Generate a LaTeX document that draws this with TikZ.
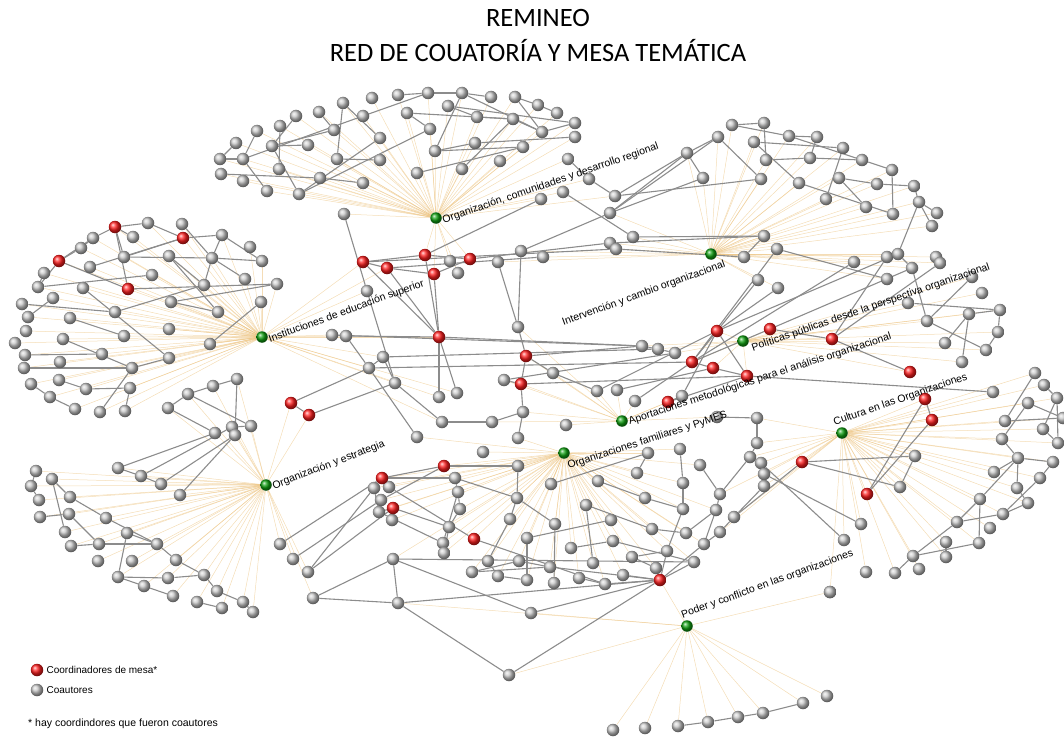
\documentclass[tikz,border=0pt]{standalone}
\usepackage{fontspec}
\setmainfont{Liberation Sans}
\newfontfamily\titlefont{Carlito}
\usetikzlibrary{positioning,backgrounds}
\definecolor{nodegray}{HTML}{C8C8C8}
\definecolor{nodered}{HTML}{FF2020}
\definecolor{hubgreen}{HTML}{10A010}
\definecolor{edgegray}{HTML}{8C8C8C}
\definecolor{spokeorange}{HTML}{EBC07A}

\begin{document}
\begin{tikzpicture}[
  x=1pt, y=-1pt,
  coaut/.style={circle, inner sep=0pt, minimum size=12.5pt, ball color=nodegray},
  coord/.style={coaut, ball color=nodered},
  mesa/.style={coaut, minimum size=11.5pt, ball color=hubgreen},
  tie/.style={draw=edgegray, line width=1.1pt},
  spoke/.style={draw=spokeorange, line width=0.5pt, opacity=0.55},
  mesalabel/.style={font=\fontsize{10.5}{12}\selectfont, inner sep=1pt},
  keytext/.style={font=\fontsize{10}{11}\selectfont, inner sep=2pt, anchor=west}
]
\useasboundingbox (0,0) rectangle (1064,738);

\node[font=\titlefont\fontsize{26.5}{30}\selectfont] (title) at (538,18) {REMINEO};
\node[font=\titlefont\fontsize{26.5}{30}\selectfont] (subtitle) at (538,51) {RED DE COUATORÍA Y MESA TEMÁTICA};

\node[mesa] (hT) at (436,218) {};
\node[mesa] (hI) at (262,337) {};
\node[mesa] (hR) at (711,254) {};
\node[mesa] (hP) at (743,341) {};
\node[mesa] (hA) at (622,421) {};
\node[mesa] (hF) at (564,453) {};
\node[mesa] (hC) at (842,433) {};
\node[mesa] (hE) at (266,485) {};
\node[mesa] (hD) at (687,626) {};

\foreach \n/\x/\y in {t1/372/98, t2/398/95, t3/428/93, t4/462/93, t5/491/97, t6/515/97, t7/538/105,
  t8/557/113, t9/575/123, t10/575/137, t11/343/103, t12/319/112, t13/296/116, t14/280/126, t15/257/131,
  t16/236/143, t17/220/159, t18/221/174, t19/243/159, t20/243/181, t21/267/191, t22/272/146, t23/279/169,
  t24/299/194, t25/308/145, t26/320/178, t27/334/130, t28/363/116, t29/380/138, t30/337/159, t31/380/160,
  t32/363/183, t33/407/113, t34/430/129, t35/448/106, t36/435/151, t37/417/173, t38/462/169, t39/475/143,
  t40/477/117, t41/513/119, t42/500/161, t43/523/147, t44/542/132, t45/568/159, t46/344/214}
  \node[coaut] (\n) at (\x,\y) {};
\foreach \n/\x/\y in {m1/589/179, m2/615/196, m3/563/192, m4/541/199, m5/610/213, m6/633/237, m7/610/243,
  m8/616/249, m9/521/251, m10/543/257, m11/498/262, m12/450/261, m13/458/273}
  \node[coaut] (\n) at (\x,\y) {};
\foreach \n/\x/\y in {r1/732/125, r2/764/123, r3/718/137, r4/687/153, r5/754/142, r6/789/136, r7/817/137,
  r8/843/148, r9/862/160, r10/892/170, r11/766/160, r12/810/158, r13/799/183, r14/839/178, r15/877/184,
  r16/914/186, r17/919/202, r18/937/213, r19/932/226, r20/893/214, r21/866/207, r22/826/199, r23/761/179,
  r24/703/178, r25/764/236, r26/777/249, r27/744/257}
  \node[coaut] (\n) at (\x,\y) {};
\foreach \n/\x/\y in {p1/854/262, p2/887/257, p3/898/254, p4/936/257, p5/940/263, p6/912/268, p7/887/279,
  p8/758/280, p9/778/288, p10/972/277, p11/982/293, p12/908/303, p13/927/321, p14/969/314, p15/1000/310,
  p16/998/332, p17/986/350, p18/945/343, p19/962/362, p20/642/346, p21/658/349, p22/675/353, p23/597/391,
  p24/617/390, p25/635/401, p26/682/396, p27/717/417, p28/566/425}
  \node[coaut] (\n) at (\x,\y) {};
\foreach \n/\x/\y in {k1/518/327, k2/504/380, k3/553/373, k4/523/412, k5/492/422, k6/442/422, k7/439/397,
  k8/457/393, k9/395/383, k10/369/368, k11/383/357, k12/346/336, k13/332/335, k14/367/291}
  \node[coaut] (\n) at (\x,\y) {};
\foreach \n/\x/\y in {i1/148/223, i2/182/224, i3/222/235, i4/250/247, i5/262/261, i6/133/237, i7/93/238,
  i8/81/248, i9/44/273, i10/38/287, i11/124/257, i12/169/256, i13/212/258, i14/90/267, i15/152/275,
  i16/204/285, i17/245/279, i18/277/284, i19/83/288, i20/53/298, i21/22/304, i22/28/317, i23/171/302,
  i24/218/312, i25/261/302, i26/115/312, i27/70/318, i28/26/331, i29/15/343, i30/169/329, i31/124/336,
  i32/63/339, i33/210/344, i34/25/355, i35/102/354, i36/60/362, i37/169/358, i38/132/368, i39/24/368,
  i40/59/380, i41/31/384, i42/86/389, i43/130/388, i44/50/397, i45/75/409, i46/100/412, i47/125/411}
  \node[coaut] (\n) at (\x,\y) {};
\foreach \n/\x/\y in {s1/36/471, s2/52/479, s3/31/486, s4/39/500, s5/70/497, s6/40/517, s7/69/514,
  s8/106/518, s9/65/532, s10/127/533, s11/71/546, s12/99/544, s13/157/544, s14/98/561, s15/132/561,
  s16/176/560, s17/118/577, s18/168/578, s19/204/575, s20/144/586, s21/217/591, s22/173/596, s23/197/602,
  s24/222/608, s25/243/602, s26/253/612,
  n1/237/379, n2/213/386, n3/188/394, n4/168/408, n5/215/433, n6/232/427, n7/235/435, n8/251/426,
  n9/118/468, n10/141/476, n11/161/484, n12/180/495,
  o1/280/544, o2/293/559, o3/308/572, o4/313/598}
  \node[coaut] (\n) at (\x,\y) {};
\foreach \n/\x/\y in {f1/417/437, f2/483/452, f3/518/438, f4/648/453, f5/680/449, f6/700/465, f7/637/473,
  f8/598/481, f9/551/484, f10/683/483, f11/645/498, f12/683/509, f13/716/510, f14/586/505, f15/611/520,
  f16/652/529, f17/686/533, f18/704/544, f19/613/541, f20/667/551, f21/632/557, f22/694/562, f23/656/568,
  f24/623/575, f25/593/563, f26/605/584, f27/579/578, f28/571/548, f29/555/524, f30/527/538, f31/519/561,
  f32/488/561, f33/472/572, f34/498/576, f35/527/580, f36/550/567, f37/554/583, f38/510/519, f39/517/498,
  f40/518/466,
  g1/374/488, g2/389/487, g3/381/500, g4/379/512, g5/392/520, g6/455/478, g7/458/492, g8/460/509,
  g9/449/527, g10/443/543, g11/444/553,
  b1/393/559, b2/398/603, b3/531/613, b4/509/675}
  \node[coaut] (\n) at (\x,\y) {};
\foreach \n/\x/\y in {u1/915/456, u2/900/487, u3/861/524, u4/844/540, u5/866/572, u6/830/592, u7/757/418,
  u8/757/443, u9/750/457, u10/761/463, u11/764/474, u12/764/486, u13/720/494, u14/734/517, u15/720/532,
  u16/993/392,
  w1/1035/373, w2/1044/385, w3/1057/398, w4/1028/403, w5/1005/421, w6/1063/418, w7/1043/429, w8/1002/439,
  w9/1058/443, w10/1018/458, w11/1053/462, w12/994/472, w13/1040/478, w14/1017/488, w15/1028/503,
  w16/980/499, w17/1003/514, w18/957/522, w19/990/528, w20/946/542, w21/979/543, w22/946/557,
  w23/913/556, w24/919/569, w25/895/573,
  d1/613/730, d2/645/728, d3/678/726, d4/708/722, d5/738/717, d6/763/713, d7/803/703, d8/827/696,
  d9/830/592}
  \node[coaut] (\n) at (\x,\y) {};
\foreach \n/\x/\y in {q1/363/262, q2/387/268, q3/425/255, q4/434/274, q5/470/259, q6/439/337, q7/717/331,
  q8/770/329, q9/832/339, q10/692/362, q11/713/368, q12/747/376, q13/910/372, q14/668/402, q15/526/356,
  q16/521/384, q17/925/399, q18/932/420, q19/802/462, q20/867/494, q21/444/466, q22/382/478, q23/393/508,
  q24/474/539, q25/660/580, q26/291/403, q27/309/415, q28/115/227, q29/183/238, q30/59/261, q31/128/289}
  \node[coord] (\n) at (\x,\y) {};

\node[mesalabel, rotate=19, anchor=west] (lT) at ([yshift=-3pt]hT.east) {Organización, comunidades y desarrollo regional};
\node[mesalabel, rotate=20, anchor=west] (lI) at ([yshift=-3pt]hI.east) {Instituciones de educación superior};
\node[mesalabel, rotate=20, anchor=north east] (lR) at ([xshift=7pt,yshift=-4pt]hR.east) {Intervención y cambio organizacional};
\node[mesalabel, rotate=19, anchor=north west] (lP) at ([yshift=-2pt]hP.east) {Políticas públicas desde la perspectiva organizacional};
\node[mesalabel, rotate=18, anchor=west] (lA) at ([yshift=-1pt]hA.east) {Aportaciones metodológicas para el análisis organizacional};
\node[mesalabel, rotate=18, anchor=north west] (lF) at ([xshift=1pt,yshift=-2pt]hF.south) {Organizaciones familiares y PyMES};
\node[mesalabel, rotate=19, anchor=south west] (lC) at ([xshift=-3pt]hC.north west) {Cultura en las Organizaciones};
\node[mesalabel, rotate=21, anchor=west] (lE) at ([yshift=-2pt]hE.east) {Organización y estrategia};
\node[mesalabel, rotate=20, anchor=south west] (lD) at (hD.north west) {Poder y conflicto en las organizaciones};

\node[coord] (keycoord) at (37,670) {};
\node[keytext, right=1pt of keycoord] (keycoordtext) {Coordinadores de mesa*};
\node[coaut] (keycoaut) at (37,690) {};
\node[keytext, right=1pt of keycoaut] (keycoauttext) {Coautores};
\node[keytext, font=\fontsize{10.5}{12}\selectfont] (keynote) at (26,724) {* hay coordindores que fueron coautores};

\begin{pgfonlayer}{background}
\foreach \i in {1,...,46} \draw[spoke] (hT) -- (t\i);
\foreach \n in {m1,m2,m3,m4,m12,m13,q3,q4,q5} \draw[spoke] (hT) -- (\n);
\foreach \i in {1,...,47} \draw[spoke] (hI) -- (i\i);
\foreach \n in {q28,q29,q30,q31,k6,k7,k8,k9,k10,k11,k12,k13,k14,q1,q2,q6} \draw[spoke] (hI) -- (\n);
\foreach \i in {1,...,27} \draw[spoke] (hR) -- (r\i);
\foreach \n in {m5,m6,m7,m8,m9,m10,m11,p1,p2,p3,p4,p5,p6,p7,p8,p9} \draw[spoke] (hR) -- (\n);
\foreach \i in {10,...,22} \draw[spoke] (hP) -- (p\i);
\foreach \i in {7,...,13} \draw[spoke] (hP) -- (q\i);
\foreach \n in {p23,p24,p25,p26,p27,p28,q14,q15,q16,k1,k2,k3,k4,k5} \draw[spoke] (hA) -- (\n);
\foreach \i in {1,...,40} \draw[spoke] (hF) -- (f\i);
\foreach \i in {1,...,11} \draw[spoke] (hF) -- (g\i);
\foreach \n in {b1,q21,q22,q23,q24} \draw[spoke] (hF) -- (\n);
\foreach \i in {1,...,16} \draw[spoke] (hC) -- (u\i);
\foreach \i in {1,...,25} \draw[spoke] (hC) -- (w\i);
\foreach \i in {17,...,20} \draw[spoke] (hC) -- (q\i);
\foreach \i in {1,...,26} \draw[spoke] (hE) -- (s\i);
\foreach \i in {1,...,12} \draw[spoke] (hE) -- (n\i);
\foreach \n in {o1,o2,o3,o4,q26,q27} \draw[spoke] (hE) -- (\n);
\foreach \i in {1,...,9} \draw[spoke] (hD) -- (d\i);
\foreach \n in {b2,b3,b4,q25} \draw[spoke] (hD) -- (\n);

\foreach \a/\b in {t2/t3, t3/t4, t4/t5, t28/t3, t4/t36, t4/t44, t35/t9, t33/t41, t33/t34, t24/t34,
  t36/t43, t36/t39, t37/t43, t38/t41, t39/t10, t41/t44, t44/t9, t6/t44, t11/t30, t11/t29, t22/t27,
  t28/t19, t30/t31, t15/t19, t17/t19, t16/t17, t18/t26, t13/t22, t14/t23, t22/t24, t21/t19, t24/t29,
  t22/t25, t35/t40, t40/t41, t6/t7, t7/t8, t12/t27, t26/t32, t45/m1, m1/m2, m2/r4, m3/m6, m5/r4,
  m5/r24, m5/m9, r3/m5, r23/m2, m7/r25, m8/r27, t46/k14, m4/q3}
  \draw[tie] (\a) -- (\b);
\foreach \a/\b in {r1/r2, r1/r6, r2/r11, r5/r13, r5/r8, r6/r7, r6/r9, r7/r12, r11/r12, r12/r9, r8/r22,
  r13/r20, r14/r15, r15/r16, r10/r20, r10/r9, r17/r18, r17/r19, r4/r3, r4/r24, r3/r23, r25/r27,
  r16/r17, r14/r21, r17/p3, r26/p7, p3/q7, p6/q8, r26/q10, r25/m6}
  \draw[tie] (\a) -- (\b);
\foreach \a/\b in {p1/q10, p2/q9, p3/p6, p6/p13, p4/p5, q9/p5, p10/p13, p12/p15, p14/p15, p14/p18,
  p14/p19, p15/p16, p16/p17, p13/p17, q7/q10, q7/q12, q7/p9, q8/q9, q8/q10, q9/q13, q10/q11, q11/q12,
  q6/p20, k13/p20, k11/p21, k10/q10, k2/p22, q16/q12, q15/p20, k3/p23, p23/q7, p24/q11, p25/q10,
  q14/p26, p26/q7, q14/q12, p20/p21, p21/p22, p8/q7, q12/u16, u7/p27}
  \draw[tie] (\a) -- (\b);
\foreach \a/\b in {k1/q15, q15/q16, q15/k3, q16/k2, q16/k4, k4/k5, k5/k6, k6/k9, k7/q6, k8/q6, k9/k14,
  k10/k11, k12/q6, k13/k12, k12/k10, k11/k9, q1/q6, q2/q6, q3/q6, q4/q6, q1/q2, q1/q3, q2/q4, q4/q5,
  q3/q5, q1/m8, q5/m7, q2/m10, m9/k1, m11/k1, f3/k4, f1/k10, q26/q27, q26/k10, q27/k9}
  \draw[tie] (\a) -- (\b);
\foreach \a/\b in {q28/i1, q28/i6, q28/i7, q28/q31, q28/i11, i1/q29, i2/i13, q29/i3, q29/i11, q29/i14,
  i3/i5, i3/i13, i13/i16, i13/i17, i12/i16, i12/i24, i11/i13, i13/i5, q30/i8, q30/i7, q30/q31, q30/i10,
  i9/i10, i7/i8, q31/i18, i15/i10, i19/i37, i23/i24, i23/i18, i21/i26, i26/i16, i22/i20, i27/i31,
  i32/i38, i33/i25, i34/i35, i39/i38, i38/i37, i40/i42, i42/i43, i41/i44, i44/i45, i47/i43, i46/i38}
  \draw[tie] (\a) -- (\b);
\foreach \a/\b in {s2/s5, s5/s8, s8/s13, s13/s16, s16/s19, s19/s21, s21/s25, s25/s26, s2/s9, s3/s4,
  s1/s3, s6/s7, s7/s12, s11/s12, s12/s13, s10/s17, s10/s13, s17/s18, s18/s19, s17/s20, s20/s22,
  s23/s24, n1/n2, n2/n3, n3/n4, n3/n8, n1/n7, n4/n5, n6/n7, n6/n8, n5/n9, n7/n11, n7/n12, n9/n10,
  n10/n11, n6/n10}
  \draw[tie] (\a) -- (\b);
\foreach \a/\b in {q21/f40, q21/q22, q21/g3, q22/g6, g2/q24, g1/g4, g6/f39, g6/g7, g7/g8, g8/g9,
  g9/g11, g7/g10, q23/g9, g10/g4, f40/f39, f39/f38, f38/f32, f39/f29, f29/f37, f9/f4, f4/f7, f5/f10,
  f10/f12, f11/f12, f8/f11, f14/f16, f14/f25, f16/f17, f17/f13, f13/f18, f12/f20, f19/f22, f20/f21,
  f21/f23, f22/q25, f20/q25, f24/q25, f18/q25, f26/q25, f36/q25, q24/f26, f30/f35, f31/f33, f32/f34,
  f34/f35, f31/f36, f33/f36, f28/f19, f15/f30, b1/f22, f27/f26, q22/g1, q22/g2, q23/g4,
  o1/q22, o2/g3, o3/g1, o3/q23, o4/b1, o4/b2, b1/b2, b1/b3, b2/q25, b3/q25, b2/b4, b4/q25,
  d3/d4, d4/d5, d5/d6, d6/d7}
  \draw[tie] (\a) -- (\b);
\foreach \a/\b in {q17/q18, q17/q20, q18/q20, q19/u1, q19/u2, u1/u2, q19/u14, u7/u8, u8/u9, u10/u11,
  u11/u12, u10/u4, u11/u3, u9/u13, u12/u14, u13/f13, u14/u15, u15/f18, f6/u13,
  w1/w5, w2/w3, w3/w7, w4/w8, w4/w6, w5/w6, w3/w9, w7/w9, w8/w10, w10/w11, w10/w12, w10/w14,
  w10/w16, w13/w17, w14/w15, w15/w17, w16/w18, w16/w21, w17/w18, w18/w23, w21/w23, w20/w22,
  w23/w25, w11/w13}
  \draw[tie] (\a) -- (\b);
\end{pgfonlayer}
\end{tikzpicture}
\end{document}
